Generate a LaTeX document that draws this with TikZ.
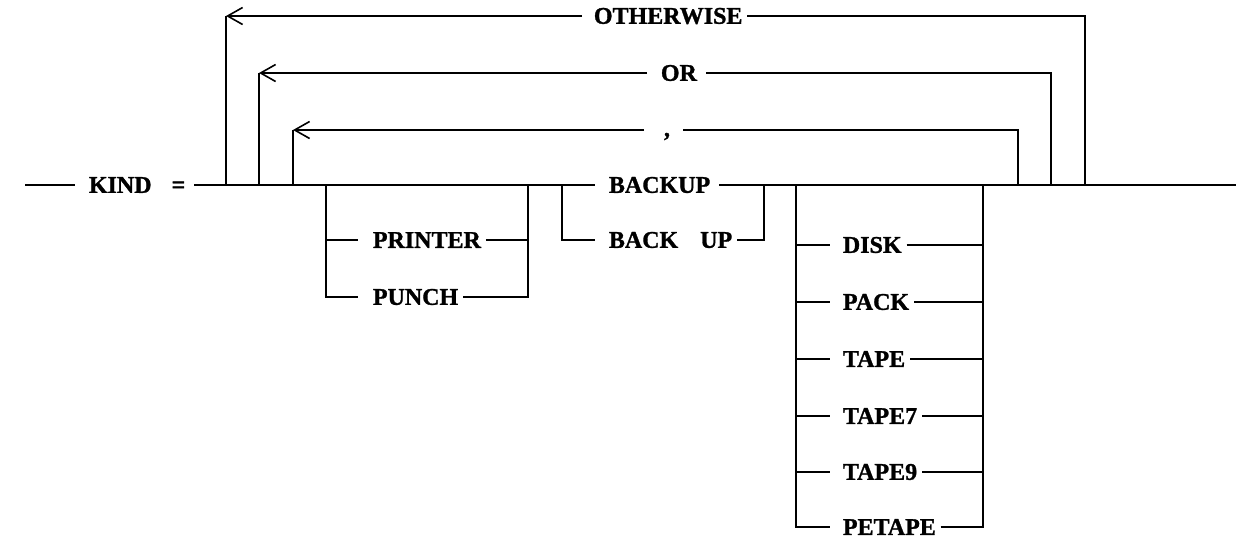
\documentclass[tikz,border=0pt]{standalone}
\usepackage{fontspec}
\setmainfont{Liberation Serif}[BoldFeatures={FakeBold=1.2}]
\usetikzlibrary{arrows.meta}
\begin{document}
\begin{tikzpicture}[x=1pt,y=-1pt, line width=1.8pt,
  lbl/.style={inner sep=0pt, anchor=west, font=\fontsize{24}{24}\selectfont\bfseries},
  back/.style={-{Straight Barb[length=15pt,width=17pt,line width=1.6pt]}}]
\useasboundingbox (0,0) rectangle (1236,539);
\def\M{185}
% main line
\coordinate (start) at (25,\M);
\coordinate (end) at (1236,\M);
\node[lbl] (kind) at (88,\M) {KIND\hspace{20pt}=};
\node[lbl] (backup) at (608,\M) {BACKUP};
\draw (start) -- ([xshift=-13pt]kind.west);
\draw ([xshift=8pt]kind.east) -- ([xshift=-13pt]backup.west);
\draw ([xshift=8pt]backup.east) -- (end);
% repeat loops
\coordinate (a1) at (226,\M); \coordinate (a1t) at (226,16);
\coordinate (b1) at (1085,\M); \coordinate (b1t) at (1085,16);
\coordinate (a2) at (259,\M); \coordinate (a2t) at (259,73);
\coordinate (b2) at (1051,\M); \coordinate (b2t) at (1051,73);
\coordinate (a3) at (293,\M); \coordinate (a3t) at (293,130);
\coordinate (b3) at (1018,\M); \coordinate (b3t) at (1018,130);
\node[lbl] (ow) at (593,16) {OTHERWISE};
\node[lbl] (or) at (660,73) {OR};
\node[inner sep=0pt, anchor=north, font=\fontsize{24}{24}\selectfont\bfseries] (comma) at (667,132) {,};
\draw (b1) -- (b1t) -- ([xshift=4pt]ow.east);
\draw[back] ([xshift=-11pt]ow.west) -- (a1t);
\draw (a1t) -- (a1);
\draw (b2) -- (b2t) -- ([xshift=8pt]or.east);
\draw[back] ([xshift=-13pt]or.west) -- (a2t);
\draw (a2t) -- (a2);
\draw (b3) -- (b3t) -- ([xshift=12pt]comma.east |- b3t);
\draw[back] ([xshift=-19pt]comma.west |- a3t) -- (a3t);
\draw (a3t) -- (a3);
% PRINTER / PUNCH
\coordinate (p1) at (326,\M); \coordinate (p2) at (528,\M);
\node[lbl] (printer) at (372,240) {PRINTER};
\node[lbl] (punch) at (372,297) {PUNCH};
\draw (p1) |- ([xshift=-14pt]punch.west);
\draw (p1 |- printer.west) -- ([xshift=-14pt]printer.west);
\draw ([xshift=4pt]punch.east) -| (p2);
\draw ([xshift=4pt]printer.east) -- (p2 |- printer.east);
% BACKUP / BACK UP
\coordinate (q1) at (562,\M); \coordinate (q2) at (764,\M);
\node[lbl] (backup2) at (608,240) {BACK\hspace{22pt}UP};
\draw (q1) |- ([xshift=-13pt]backup2.west);
\draw ([xshift=4pt]backup2.east) -| (q2);
% devices
\coordinate (d1) at (796,\M); \coordinate (d2) at (983,\M);
\node[lbl] (disk) at (842,245) {DISK};
\node[lbl] (pack) at (842,302) {PACK};
\node[lbl] (tape) at (842,359) {TAPE};
\node[lbl] (tape7) at (842,416) {TAPE7};
\node[lbl] (tape9) at (842,472) {TAPE9};
\node[lbl] (petape) at (842,527) {PETAPE};
\draw (d1) |- ([xshift=-12pt]petape.west);
\draw ([xshift=4pt]petape.east) -| (d2);
\foreach \n in {disk,pack,tape,tape7,tape9}{
  \draw (d1 |- \n.west) -- ([xshift=-12pt]\n.west);
  \draw ([xshift=4pt]\n.east) -- (d2 |- \n.east);
}
\end{tikzpicture}
\end{document}
